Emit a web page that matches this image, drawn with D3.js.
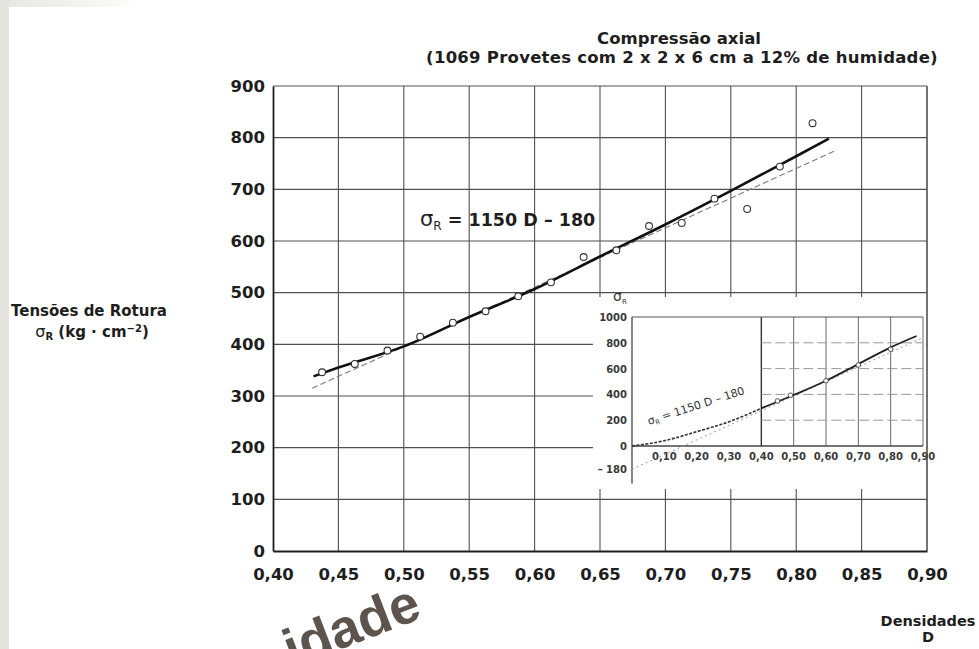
<!DOCTYPE html>
<html>
<head>
<meta charset="utf-8">
<script src="https://cdn.jsdelivr.net/npm/d3@7"></script>
<style>
  body { margin: 0; background: #fff; }
  svg { display: block; font-family: "DejaVu Sans", sans-serif; }
</style>
</head>
<body>
<svg id="chart" width="979" height="649" viewBox="0 0 979 649"></svg>
<script>
// main chart data
const xTicks = [0.40, 0.45, 0.50, 0.55, 0.60, 0.65, 0.70, 0.75, 0.80, 0.85, 0.90];
const yTicks = [0, 100, 200, 300, 400, 500, 600, 700, 800, 900];
const densidades = [0.4375, 0.4625, 0.4875, 0.5125, 0.5375, 0.5625, 0.5875, 0.6125,
  0.6375, 0.6625, 0.6875, 0.7125, 0.7375, 0.7625, 0.7875, 0.8125];
const tensoes = [346, 362, 388, 415, 442, 464, 493, 520, 569, 582, 629, 635, 682, 662, 744, 828];
// hand-drawn curve (solid) and linear fit (dashed)
const curveD = [0.431, 0.45, 0.50, 0.55, 0.60, 0.65, 0.70, 0.75, 0.80, 0.825];
const curveS = [338, 355, 396, 453, 507, 570, 632, 697, 764, 798];
const fitD = [0.43, 0.83];
const fitS = [315, 775];

// inset data
const insetXTicks = [0.10, 0.20, 0.30, 0.40, 0.50, 0.60, 0.70, 0.80, 0.90];
const insetYTicks = [1000, 800, 600, 400, 200, 0, -180];
const insetGridX = [0.40, 0.50, 0.60, 0.70, 0.80, 0.90];
const insetGridY = [200, 400, 600, 800];
const insetCurveD = [0, 0.1, 0.2, 0.3, 0.4, 0.5, 0.6, 0.7, 0.8, 0.88];
const insetCurveS = [0, 41, 111, 188, 292, 395, 506, 635, 765, 853];
const insetFitD = [0, 0.9];
const insetFitS = [-180, 840];
const insetPtD = [0.45, 0.49, 0.60, 0.70, 0.80];
const insetPtS = [349, 393, 506, 628, 750];

const svg = d3.select("#chart");
const fmt = (d) => d3.format(".2f")(d).replace(".", ",");

// scan background bits
svg.append("rect").attr("x", 0).attr("y", 0).attr("width", 979).attr("height", 649).attr("fill", "#fff");
svg.append("rect").attr("x", 0).attr("y", 0).attr("width", 9).attr("height", 649).attr("fill", "#e6e4df");
const grad = svg.append("defs").append("linearGradient").attr("id", "topband");
grad.append("stop").attr("offset", "0%").attr("stop-color", "#e9e7e2");
grad.append("stop").attr("offset", "100%").attr("stop-color", "#fbfbfa");
svg.append("rect").attr("x", 9).attr("y", 0).attr("width", 120).attr("height", 7).attr("fill", "url(#topband)");

// main scales
const plot = { left: 273, right: 927, top: 86, bottom: 551 };
const x = d3.scaleLinear().domain([0.40, 0.90]).range([plot.left, plot.right]);
const y = d3.scaleLinear().domain([0, 900]).range([plot.bottom, plot.top]);

const grid = svg.append("g").attr("class", "grid");
grid.selectAll("line.v")
  .data(xTicks.slice(1))
  .enter()
  .append("line")
  .attr("class", "v")
  .attr("x1", (d) => x(d)).attr("x2", (d) => x(d))
  .attr("y1", plot.top).attr("y2", plot.bottom)
  .attr("stroke", "#505050").attr("stroke-width", 1.1);
grid.selectAll("line.h")
  .data(yTicks.slice(1))
  .enter()
  .append("line")
  .attr("class", "h")
  .attr("x1", plot.left).attr("x2", plot.right)
  .attr("y1", (d) => y(d)).attr("y2", (d) => y(d))
  .attr("stroke", "#505050").attr("stroke-width", 1.1);

// axes
const xAxis = d3.axisBottom(x).tickValues(xTicks).tickFormat(fmt).tickSize(0).tickPadding(17);
const yAxis = d3.axisLeft(y).tickValues(yTicks).tickSize(0).tickPadding(8);

const xAxisG = svg.append("g").attr("transform", `translate(0 ${plot.bottom})`).call(xAxis);
const yAxisG = svg.append("g").attr("transform", `translate(${plot.left} 0)`).call(yAxis);
[xAxisG, yAxisG].forEach((g) => {
  g.select(".domain").attr("stroke", "#1e1e1e").attr("stroke-width", 1.8);
  g.selectAll("text")
    .attr("fill", "#1e1e1e")
    .style("font-family", "'DejaVu Sans', sans-serif")
    .style("font-size", "16.5px")
    .style("font-weight", "bold");
});

// fitted lines
const lineMain = d3.line().x((d) => x(d[0])).y((d) => y(d[1]));
svg.append("path")
  .datum(fitD.map((d, i) => [d, fitS[i]]))
  .attr("d", lineMain)
  .attr("fill", "none")
  .attr("stroke", "#7a7a7a")
  .attr("stroke-width", 1.1)
  .attr("stroke-dasharray", "6 3");
svg.append("path")
  .datum(curveD.map((d, i) => [d, curveS[i]]))
  .attr("d", lineMain.curve(d3.curveMonotoneX))
  .attr("fill", "none")
  .attr("stroke", "#111")
  .attr("stroke-width", 2.6);

svg.selectAll("circle.pt")
  .data(densidades.map((d, i) => [d, tensoes[i]]))
  .enter()
  .append("circle")
  .attr("class", "pt")
  .attr("cx", (d) => x(d[0]))
  .attr("cy", (d) => y(d[1]))
  .attr("r", 3.4)
  .attr("fill", "#fff")
  .attr("stroke", "#333")
  .attr("stroke-width", 1.1);

// equation label
const eq = svg.append("text")
  .attr("x", 420).attr("y", 226)
  .attr("fill", "#1e1e1e")
  .style("font-size", "17.5px")
  .style("font-weight", "bold");
eq.append("tspan").text("σ").style("font-weight", "normal").style("font-size", "21px");
eq.append("tspan").text("R").attr("dy", 4).style("font-size", "12px").style("font-weight", "normal");
eq.append("tspan").text(" = 1150 D – 180").attr("dy", -4);

// inset
const ins = { left: 632, right: 923 };
const xi = d3.scaleLinear().domain([0, 0.9]).range([ins.left, ins.right]);
const yi = d3.scaleLinear().domain([0, 1000]).range([446, 317]);

svg.append("rect")
  .attr("x", 593).attr("y", 297)
  .attr("width", plot.right - 593 - 1).attr("height", 192)
  .attr("fill", "#fff");

const inset = svg.append("g").attr("class", "inset");
inset.selectAll("line.iv")
  .data(insetGridX)
  .enter()
  .append("line")
  .attr("x1", (d) => xi(d)).attr("x2", (d) => xi(d))
  .attr("y1", yi(0)).attr("y2", yi(1000))
  .attr("stroke", (d) => (d === 0.40 ? "#333" : "#6a6a6a"))
  .attr("stroke-width", (d) => (d === 0.40 ? 1.4 : 1));
inset.selectAll("line.ih")
  .data(insetGridY)
  .enter()
  .append("line")
  .attr("x1", xi(0.40)).attr("x2", xi(0.90))
  .attr("y1", (d) => yi(d)).attr("y2", (d) => yi(d))
  .attr("stroke", "#999")
  .attr("stroke-width", 1)
  .attr("stroke-dasharray", "10 4");
inset.append("line")
  .attr("x1", xi(0)).attr("x2", xi(0.9))
  .attr("y1", yi(1000)).attr("y2", yi(1000))
  .attr("stroke", "#555").attr("stroke-width", 1.1);
inset.append("line")
  .attr("x1", xi(0)).attr("x2", xi(0.9))
  .attr("y1", yi(0)).attr("y2", yi(0))
  .attr("stroke", "#444").attr("stroke-width", 1.3);
inset.append("line")
  .attr("x1", xi(0)).attr("x2", xi(0))
  .attr("y1", yi(1000)).attr("y2", yi(-290))
  .attr("stroke", "#444").attr("stroke-width", 1.3);

inset.selectAll("text.ix")
  .data(insetXTicks)
  .enter()
  .append("text")
  .attr("x", (d) => xi(d))
  .attr("y", yi(0) + 14)
  .attr("text-anchor", "middle")
  .attr("fill", "#3a3a3a")
  .style("font-size", "10px")
  .style("font-weight", "bold")
  .text(fmt);
inset.selectAll("text.iy")
  .data(insetYTicks)
  .enter()
  .append("text")
  .attr("x", xi(0) - 5)
  .attr("y", (d) => yi(d) + 4)
  .attr("text-anchor", "end")
  .attr("fill", "#3a3a3a")
  .style("font-size", "10px")
  .style("font-weight", "bold")
  .text((d) => (d < 0 ? `– ${-d}` : d));

const sig = inset.append("text").attr("x", 613).attr("y", 301).attr("fill", "#3a3a3a").style("font-size", "14px");
sig.append("tspan").text("σ");
sig.append("tspan").text("R").attr("dy", 3).style("font-size", "7px");

const lineIns = d3.line().x((d) => xi(d[0])).y((d) => yi(d[1]));
inset.append("path")
  .datum(insetFitD.map((d, i) => [d, insetFitS[i]]))
  .attr("d", lineIns)
  .attr("fill", "none")
  .attr("stroke", "#999")
  .attr("stroke-width", 1)
  .attr("stroke-dasharray", "2 3");
const insetPts = insetCurveD.map((d, i) => [d, insetCurveS[i]]);
inset.append("path")
  .datum(insetPts.filter((d) => d[0] <= 0.4))
  .attr("d", lineIns.curve(d3.curveMonotoneX))
  .attr("fill", "none")
  .attr("stroke", "#333")
  .attr("stroke-width", 1.6)
  .attr("stroke-dasharray", "3 1.5");
inset.append("path")
  .datum(insetPts.filter((d) => d[0] >= 0.4))
  .attr("d", lineIns.curve(d3.curveMonotoneX))
  .attr("fill", "none")
  .attr("stroke", "#222")
  .attr("stroke-width", 1.8);
inset.selectAll("circle.ipt")
  .data(insetPtD.map((d, i) => [d, insetPtS[i]]))
  .enter()
  .append("circle")
  .attr("cx", (d) => xi(d[0]))
  .attr("cy", (d) => yi(d[1]))
  .attr("r", 2.3)
  .attr("fill", "#fff")
  .attr("stroke", "#444")
  .attr("stroke-width", 0.9);

const ieq = inset.append("text")
  .attr("transform", "translate(649 425) rotate(-18)")
  .attr("fill", "#333")
  .style("font-size", "11px");
ieq.append("tspan").text("σ");
ieq.append("tspan").text("R").attr("dy", 2).style("font-size", "6.5px");
ieq.append("tspan").text(" = 1150 D – 180").attr("dy", -2);

// right border of the main plot on top of the inset backing
svg.append("line")
  .attr("x1", plot.right).attr("x2", plot.right)
  .attr("y1", plot.top).attr("y2", plot.bottom)
  .attr("stroke", "#505050").attr("stroke-width", 1.1);

// titles
const title = svg.append("g")
  .attr("fill", "#1e1e1e")
  .style("font-weight", "bold")
  .style("font-size", "16.5px");
title.append("text").attr("x", 679).attr("y", 44).attr("text-anchor", "middle").text("Compressão axial");
title.append("text").attr("x", 682).attr("y", 63).attr("text-anchor", "middle")
  .style("letter-spacing", "0.25px")
  .text("(1069 Provetes com 2 x 2 x 6 cm a 12% de humidade)");

const yLab = svg.append("g")
  .attr("fill", "#1e1e1e")
  .style("font-weight", "bold")
  .style("font-size", "15px");
yLab.append("text").attr("x", 89).attr("y", 316).attr("text-anchor", "middle").text("Tensões de Rotura");
const yl2 = yLab.append("text").attr("x", 92).attr("y", 337).attr("text-anchor", "middle");
yl2.append("tspan").text("σ").style("font-weight", "normal").style("font-size", "16px");
yl2.append("tspan").text("R").attr("dy", 3).style("font-size", "10px");
yl2.append("tspan").text(" (kg · cm").attr("dy", -3);
yl2.append("tspan").text("−2").attr("dy", -5).style("font-size", "10px");
yl2.append("tspan").text(")").attr("dy", 5);

const xLab = svg.append("g")
  .attr("fill", "#1e1e1e")
  .style("font-weight", "bold")
  .style("font-size", "14.5px")
  .attr("text-anchor", "middle");
xLab.append("text").attr("x", 928).attr("y", 626).text("Densidades");
xLab.append("text").attr("x", 928).attr("y", 642).text("D");

// watermark fragment at the bottom of the scan
svg.append("text")
  .attr("transform", "translate(292 668) rotate(-21)")
  .attr("fill", "#5d554d")
  .style("font-family", "'Liberation Sans', Arial, sans-serif")
  .style("font-weight", "bold")
  .style("font-size", "54px")
  .text("idade");
</script>
</body>
</html>
